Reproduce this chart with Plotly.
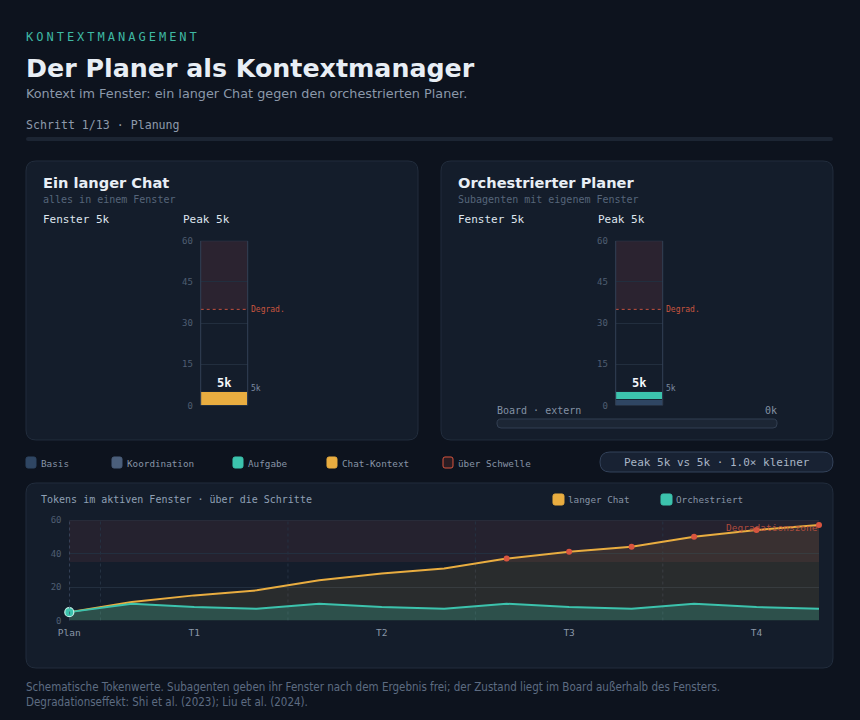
import plotly.graph_objects as go

W, H = 860, 720

# ---------------- data ----------------
tick_steps = [0, 2, 5, 8, 11]
tick_labels = ["Plan", "T1", "T2", "T3", "T4"]
chat_tokens = [5, 11, 15, 18, 24, 28, 31, 37, 41, 44, 50, 54, 57]
orch_tokens = [5, 10, 8, 7, 10, 8, 7, 10, 8, 7, 10, 8, 7]
threshold = 35
y_max = 60
bar_ticks = [0, 15, 30, 45, 60]
line_ticks = [0, 20, 40, 60]
current_step = 0
total_steps = 13
step_name = "Planung"

chat_segments = ["Chat-Kontext"]
chat_values = [5]
orch_segments = ["Basis", "Koordination", "Aufgabe"]
orch_values = [2, 0, 3]
board_tokens = 0

legend_names = ["Basis", "Koordination", "Aufgabe", "Chat-Kontext", "über Schwelle"]

# ---------------- style ----------------
BG = "#0d131e"
CARD = "#141d2b"
CARD_LINE = "#222d3d"
TXT = "#e8eef5"
MUTED = "#8b98aa"
DIM = "#4f5e72"
TEAL = "#3cc3ad"
ORANGE = "#e9ad40"
RED = "#d9553f"
SEG_COL = {"Basis": "#2f4663", "Koordination": "#4b5f7b", "Aufgabe": TEAL, "Chat-Kontext": ORANGE}
MONO = "DejaVu Sans Mono"
SANS = "DejaVu Sans"


def px(x):
    return x / W


def py(y):
    return 1 - y / H


def rr_path(x0, y0, x1, y1, r):
    pts = [
        ("M", [(x0 + r, y0)]), ("L", [(x1 - r, y0)]), ("Q", [(x1, y0), (x1, y0 + r)]),
        ("L", [(x1, y1 - r)]), ("Q", [(x1, y1), (x1 - r, y1)]), ("L", [(x0 + r, y1)]),
        ("Q", [(x0, y1), (x0, y1 - r)]), ("L", [(x0, y0 + r)]), ("Q", [(x0, y0), (x0 + r, y0)]),
    ]
    s = ""
    for cmd, ps in pts:
        s += cmd + " " + " ".join(f"{px(a):.5f},{py(b):.5f}" for a, b in ps) + " "
    return s + "Z"


shapes = []
anns = []


def card(x0, y0, x1, y1, r=10, fill=CARD, line=CARD_LINE, layer="below", width=1):
    shapes.append(dict(type="path", path=rr_path(x0, y0, x1, y1, r), xref="paper", yref="paper",
                       fillcolor=fill, line=dict(color=line, width=width), layer=layer))


def text(x, y, s, size, color, fam=MONO, xa="left", bold=False):
    shift = {"left": -2, "right": 2, "center": 0}[xa]
    anns.append(dict(x=px(x), y=py(y), xref="paper", yref="paper", text=s, showarrow=False,
                     xanchor=xa, yanchor="middle", align="left", xshift=shift,
                     font=dict(family=fam, size=size, color=color, weight=700 if bold else 400)))


fig = go.Figure()

# ---------------- header ----------------
text(26, 37, '<span style="letter-spacing:3px">KONTEXTMANAGEMENT</span>', 12, "#3fb8a3")
text(26, 68, "Der Planer als Kontextmanager", 25.3, TXT, SANS, bold=True)
text(26, 94, "Kontext im Fenster: ein langer Chat gegen den orchestrierten Planer.", 12.8, MUTED, SANS)
text(26, 125, f"Schritt {current_step + 1}/{total_steps} · {step_name}", 11.6, "#8e9aab")
card(26, 137, 833, 141, 2, fill="#1c2533", line="rgba(0,0,0,0)", width=0)

# ---------------- cards ----------------
card(26, 161, 418, 440)
card(441, 161, 833, 440)
card(26, 483, 833, 668)

chat_total = sum(chat_values)
orch_total = sum(orch_values)
chat_peak = max(chat_tokens[:current_step + 1])
orch_peak = max(orch_tokens[:current_step + 1])

text(43, 182, "Ein langer Chat", 14.6, TXT, SANS, bold=True)
text(43, 199, "alles in einem Fenster", 10, "#56657a")
text(43, 219, f"Fenster {chat_total}k", 11, "#dfe6ee")
text(183, 219, f"Peak {chat_peak}k", 11, "#dfe6ee")

text(458, 182, "Orchestrierter Planer", 14.6, TXT, SANS, bold=True)
text(458, 199, "Subagenten mit eigenem Fenster", 10, "#56657a")
text(458, 219, f"Fenster {orch_total}k", 11, "#dfe6ee")
text(598, 219, f"Peak {orch_peak}k", 11, "#dfe6ee")

# board
text(497, 410, "Board · extern", 10, "#8391a4")
text(777, 410, f"{board_tokens}k", 10, "#8391a4", xa="right")
card(497, 419, 777, 428, 4, fill="#1c2635", line="#323f52", layer="above")

# ---------------- bars ----------------
for name, v in zip(chat_segments, chat_values):
    fig.add_trace(go.Bar(x=[0], y=[v], width=1, name=name, marker=dict(color=SEG_COL[name], line=dict(color="#1a2433", width=1)),
                         xaxis="x", yaxis="y", showlegend=False, hoverinfo="skip"))
for name, v in zip(orch_segments, orch_values):
    fig.add_trace(go.Bar(x=[0], y=[v], width=1, name=name, marker=dict(color=SEG_COL[name], line=dict(color="#1a2433", width=1)),
                         xaxis="x2", yaxis="y2", showlegend=False, hoverinfo="skip"))

for xa, ya, tot in (("x", "y", chat_total), ("x2", "y2", orch_total)):
    shapes.append(dict(type="rect", xref=f"{xa} domain", yref=ya, x0=0, x1=1, y0=threshold, y1=y_max,
                       fillcolor="rgba(200,80,85,0.13)", line=dict(width=0), layer="below"))
    shapes.append(dict(type="line", xref=f"{xa} domain", yref=ya, x0=0, x1=1, y0=threshold, y1=threshold,
                       line=dict(color="#c4503f", width=1, dash="3px,3px"), layer="above"))
    shapes.append(dict(type="rect", xref=f"{xa} domain", yref=ya, x0=0, x1=1, y0=0, y1=y_max,
                       fillcolor="rgba(0,0,0,0)", line=dict(color="#334155", width=1), layer="above"))
    anns.append(dict(xref=f"{xa} domain", yref=ya, x=1, y=threshold, text="Degrad.", showarrow=False,
                     xanchor="left", yanchor="middle", xshift=1, font=dict(family=MONO, size=8, color="#c8553f")))
    anns.append(dict(xref=f"{xa} domain", yref=ya, x=0.5, y=tot, text=f"<b>{tot}k</b>", showarrow=False,
                     xanchor="center", yanchor="bottom", yshift=0, font=dict(family=MONO, size=12, color="#f3f6fa")))
    anns.append(dict(xref=f"{xa} domain", yref=ya, x=1, y=tot, text=f"{tot}k", showarrow=False,
                     xanchor="left", yanchor="bottom", xshift=1, yshift=-3, font=dict(family=MONO, size=8, color="#7c8ba0")))

# ---------------- legend row ----------------
leg_x = [26, 112, 233, 327, 443]
for name, x in zip(legend_names, leg_x):
    if name == "über Schwelle":
        card(x, 457, x + 10, 468, 2, fill="#2a1c22", line=RED, layer="above")
    else:
        card(x, 457, x + 10, 468, 2, fill=SEG_COL[name], line=SEG_COL[name], layer="above")
    text(x + 15, 463, name, 9.3, "#8794a6")

ratio = chat_peak / orch_peak
card(600, 452, 833, 472, 10, fill="#182233", line="#33425a", layer="above")
text(716.5, 462, f"Peak {chat_peak}k vs {orch_peak}k · {ratio:.1f}× kleiner", 11, "#a9b6c6", xa="center")

# ---------------- line chart ----------------
text(41, 499, "Tokens im aktiven Fenster · über die Schritte", 10, "#8fa0b5")
card(553, 494, 564, 505, 2, fill=ORANGE, line=ORANGE, layer="above")
text(568, 499.5, "langer Chat", 9.3, "#8794a6")
card(661, 494, 672, 505, 2, fill=TEAL, line=TEAL, layer="above")
text(676, 499.5, "Orchestriert", 9.3, "#8794a6")

xs = list(range(len(chat_tokens)))
shapes.append(dict(type="rect", xref="x3 domain", yref="y3", x0=0, x1=1, y0=threshold, y1=y_max,
                   fillcolor="rgba(200,80,85,0.10)", line=dict(width=0), layer="below"))
shapes.append(dict(type="line", xref="x3 domain", yref="y3", x0=0, x1=1, y0=y_max, y1=y_max,
                   line=dict(color="#2c3544", width=1), layer="below"))
for t in tick_steps[1:]:
    sep = t - 1.5
    shapes.append(dict(type="line", xref="x3", yref="y3 domain", x0=sep, x1=sep, y0=0, y1=1,
                       line=dict(color="#263243", width=1, dash="dot"), layer="below"))
shapes.append(dict(type="line", xref="x3", yref="y3 domain", x0=current_step, x1=current_step, y0=0, y1=1,
                   line=dict(color="#41506a", width=1.5, dash="dot"), layer="above"))

fig.add_trace(go.Scatter(x=xs, y=chat_tokens, mode="lines", line=dict(color=ORANGE, width=2),
                         fill="tozeroy", fillcolor="rgba(233,173,64,0.10)", xaxis="x3", yaxis="y3",
                         showlegend=False, hoverinfo="skip"))
fig.add_trace(go.Scatter(x=xs, y=orch_tokens, mode="lines", line=dict(color=TEAL, width=2),
                         fill="tozeroy", fillcolor="rgba(60,195,173,0.24)", xaxis="x3", yaxis="y3",
                         showlegend=False, hoverinfo="skip"))
over_x = [x for x, v in zip(xs, chat_tokens) if v > threshold]
over_y = [v for v in chat_tokens if v > threshold]
fig.add_trace(go.Scatter(x=over_x, y=over_y, mode="markers", marker=dict(color=RED, size=6),
                         xaxis="x3", yaxis="y3", showlegend=False, hoverinfo="skip", cliponaxis=False))
fig.add_trace(go.Scatter(x=[current_step], y=[orch_tokens[current_step]], mode="markers",
                         marker=dict(color=TEAL, size=9, line=dict(color="#bff0e6", width=1.2)),
                         xaxis="x3", yaxis="y3", showlegend=False, hoverinfo="skip", cliponaxis=False))
anns.append(dict(xref="x3 domain", yref="y3", x=1, y=y_max, text="Degradationszone", showarrow=False,
                 xanchor="right", yanchor="top", yshift=0, xshift=1,
                 font=dict(family=MONO, size=9.5, color="rgba(200,82,64,0.85)")))

# ---------------- footer ----------------
FOOT = "DejaVu Sans Condensed, Liberation Sans Narrow, Liberation Sans, sans-serif"
text(26, 687, "Schematische Tokenwerte. Subagenten geben ihr Fenster nach dem Ergebnis frei; der Zustand liegt im Board außerhalb des Fensters.", 11.5, "#5d6c82", FOOT)
text(26, 702, "Degradationseffekt: Shi et al. (2023); Liu et al. (2024).", 11.5, "#5d6c82", FOOT)

# ---------------- axes ----------------
bar_y = dict(range=[0, y_max], tickvals=bar_ticks, showgrid=True, gridcolor="#222e3e", gridwidth=1,
             zeroline=False, showline=False, ticks="outside", ticklen=5, tickcolor="rgba(0,0,0,0)",
             tickfont=dict(family=MONO, size=9, color=DIM), fixedrange=True, automargin=False)
bar_x = dict(range=[-0.5, 0.5], visible=False, fixedrange=True, automargin=False)

fig.update_layout(
    template="none",
    width=W, height=H, margin=dict(l=0, r=0, t=0, b=0, pad=0, autoexpand=False),
    paper_bgcolor=BG, plot_bgcolor="rgba(0,0,0,0)",
    barmode="stack", bargap=0, showlegend=False,
    xaxis=dict(domain=[px(200.7), px(247.7)], anchor="y", **bar_x),
    yaxis=dict(domain=[py(405.5), py(240.7)], anchor="x", **bar_y),
    xaxis2=dict(domain=[px(615.7), px(662.7)], anchor="y2", **bar_x),
    yaxis2=dict(domain=[py(405.5), py(240.7)], anchor="x2", **bar_y),
    xaxis3=dict(domain=[px(69.3), px(819)], anchor="y3", range=[0, len(chat_tokens) - 1],
                tickvals=tick_steps, ticktext=tick_labels, showgrid=False, zeroline=False, showline=False,
                ticks="outside", ticklen=3, tickcolor="rgba(0,0,0,0)", automargin=False,
                tickfont=dict(family=MONO, size=9.5, color="#8a97a8"), fixedrange=True),
    yaxis3=dict(domain=[py(620.5), py(520)], anchor="x3", range=[0, y_max], tickvals=line_ticks,
                showgrid=True, gridcolor="#232f3f", zeroline=False, showline=False,
                ticks="outside", ticklen=5, tickcolor="rgba(0,0,0,0)", automargin=False,
                tickfont=dict(family=MONO, size=9, color=DIM), fixedrange=True),
    shapes=shapes, annotations=anns,
)

fig.write_html("out.html", config={"displayModeBar": False})
